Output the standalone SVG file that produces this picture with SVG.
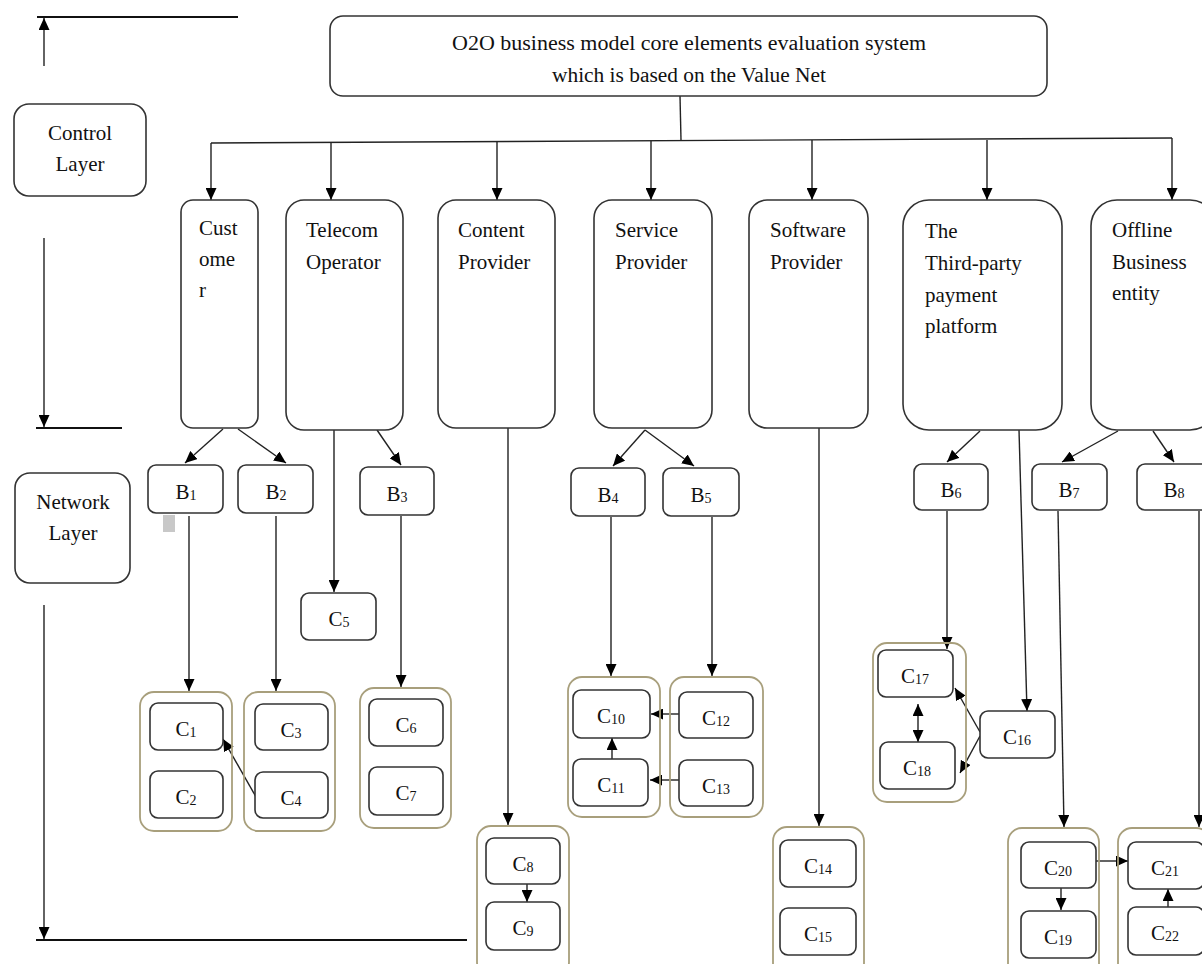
<svg xmlns="http://www.w3.org/2000/svg" width="1202" height="964" viewBox="0 0 1202 964">
<defs>
<marker id="ah" viewBox="0 0 12 11" refX="12" refY="5.5" markerWidth="12" markerHeight="11" orient="auto-start-reverse" markerUnits="userSpaceOnUse"><path d="M0,0 L12,5.5 L0,11 z" fill="#000"/></marker>
<style>
.box{fill:#fff;stroke:#333;stroke-width:1.6}
.grp{fill:none;stroke:#a89f7c;stroke-width:1.8}
.ln{fill:none;stroke:#222;stroke-width:1.4}
.ar{fill:none;stroke:#222;stroke-width:1.4;marker-end:url(#ah)}
.bar{fill:none;stroke:#111;stroke-width:2}
text{font-family:"Liberation Serif","Times New Roman",serif;font-size:21px;fill:#111}
.c{text-anchor:middle;font-size:21px}
.s{font-size:14px}
.t{font-size:20px}
</style>
</defs>

<g id="connectors">
<line class="bar" x1="37" y1="17" x2="238" y2="17"/>
<line class="ar" x1="44" y1="66" x2="44" y2="18"/>
<line class="ar" x1="44" y1="238" x2="44" y2="427"/>
<line class="bar" x1="36" y1="428" x2="122" y2="428"/>
<line class="ar" x1="44" y1="605" x2="44" y2="939"/>
<line class="bar" x1="36" y1="940" x2="467" y2="940"/>
<line class="ln" x1="680" y1="96" x2="681" y2="140"/>
<line class="ln" x1="211" y1="143" x2="1172" y2="138"/>
<line class="ar" x1="211" y1="143" x2="211" y2="200"/>
<line class="ar" x1="331" y1="142" x2="331" y2="200"/>
<line class="ar" x1="497" y1="141" x2="497" y2="200"/>
<line class="ar" x1="651" y1="141" x2="651" y2="200"/>
<line class="ar" x1="812" y1="140" x2="812" y2="200"/>
<line class="ar" x1="987" y1="140" x2="987" y2="200"/>
<line class="ar" x1="1172" y1="138" x2="1172" y2="200"/>
<line class="ar" x1="223" y1="429" x2="185" y2="463"/>
<line class="ar" x1="238" y1="429" x2="286" y2="463"/>
<line class="ar" x1="334" y1="430" x2="334" y2="592"/>
<line class="ar" x1="377" y1="430" x2="401" y2="465"/>
<line class="ar" x1="508" y1="428" x2="508" y2="825"/>
<line class="ar" x1="645" y1="430" x2="613" y2="466"/>
<line class="ar" x1="645" y1="430" x2="694" y2="466"/>
<line class="ar" x1="819" y1="428" x2="819" y2="826"/>
<line class="ar" x1="980" y1="431" x2="947" y2="462"/>
<line class="ar" x1="1019" y1="430" x2="1027" y2="711"/>
<line class="ar" x1="1118" y1="431" x2="1062" y2="462"/>
<line class="ar" x1="1153" y1="431" x2="1174" y2="462"/>
<line class="ar" x1="189" y1="516" x2="189" y2="691"/>
<line class="ar" x1="276" y1="516" x2="276" y2="691"/>
<line class="ar" x1="401" y1="516" x2="401" y2="687"/>
<line class="ar" x1="611" y1="517" x2="611" y2="676"/>
<line class="ar" x1="712" y1="517" x2="712" y2="676"/>
<line class="ar" x1="947" y1="511" x2="947" y2="649"/>
<line class="ar" x1="1058" y1="511" x2="1064" y2="827"/>
<line class="ar" x1="1199" y1="511" x2="1199" y2="827"/>
<line class="ar" x1="256" y1="797" x2="223" y2="739"/>
<line class="ar" x1="527" y1="884" x2="527" y2="902"/>
<line class="ar" x1="612" y1="759" x2="612" y2="738"/>
<line class="ar" x1="679" y1="714" x2="651" y2="714"/>
<line class="ar" x1="679" y1="780" x2="650" y2="780"/>
<line class="ar" x1="918" y1="704" x2="918" y2="742" style="marker-start:url(#ah)"/>
<line class="ar" x1="980" y1="732" x2="955" y2="688"/>
<line class="ar" x1="980" y1="736" x2="960" y2="773"/>
<line class="ar" x1="1061" y1="888" x2="1061" y2="910"/>
<line class="ar" x1="1096" y1="861" x2="1128" y2="861"/>
<line class="ar" x1="1168" y1="907" x2="1168" y2="889"/>
</g>

<g id="layer-labels">
<g id="control-layer"><rect class="box" x="14" y="104" width="132" height="92" rx="15"/><text class="c" x="80" y="140">Control</text><text class="c" x="80" y="171">Layer</text></g>
<g id="network-layer"><rect class="box" x="15" y="473" width="115" height="110" rx="15"/><text class="c" x="73" y="509">Network</text><text class="c" x="73" y="540">Layer</text></g>
</g>

<g id="root"><rect class="box" x="330" y="16" width="717" height="80" rx="13"/>
<text class="t" x="452" y="50" textLength="474" lengthAdjust="spacingAndGlyphs">O2O business model core elements evaluation system</text>
<text class="t" x="552" y="82" textLength="274" lengthAdjust="spacingAndGlyphs">which is based on the Value Net</text></g>

<g id="level1">
<g id="customer"><rect class="box" x="181" y="200" width="77" height="228" rx="12"/><text x="199" y="235">Cust</text><text x="199" y="266">ome</text><text x="199" y="297">r</text></g>
<g id="telecom"><rect class="box" x="286" y="200" width="117" height="230" rx="18"/><text x="306" y="237">Telecom</text><text x="306" y="269">Operator</text></g>
<g id="content"><rect class="box" x="438" y="200" width="117" height="228" rx="18"/><text x="458" y="237">Content</text><text x="458" y="269">Provider</text></g>
<g id="service"><rect class="box" x="594" y="200" width="118" height="228" rx="18"/><text x="615" y="237">Service</text><text x="615" y="269">Provider</text></g>
<g id="software"><rect class="box" x="749" y="200" width="119" height="228" rx="18"/><text x="770" y="237">Software</text><text x="770" y="269">Provider</text></g>
<g id="thirdparty"><rect class="box" x="903" y="200" width="159" height="230" rx="26"/><text x="925" y="238">The</text><text x="925" y="270">Third-party</text><text x="925" y="302">payment</text><text x="925" y="333">platform</text></g>
<g id="offline"><rect class="box" x="1091" y="200" width="125" height="230" rx="26"/><text x="1112" y="237">Offline</text><text x="1112" y="269">Business</text><text x="1112" y="300">entity</text></g>
</g>

<g id="bnodes">
<g id="B1"><rect class="box" x="148" y="465" width="75" height="48" rx="8"/><text class="c" x="186" y="499">B<tspan class="s" dy="1">1</tspan></text></g>
<rect x="163" y="515" width="12" height="17" fill="#c8c8c8"/>
<g id="B2"><rect class="box" x="238" y="465" width="75" height="48" rx="8"/><text class="c" x="276" y="499">B<tspan class="s" dy="1">2</tspan></text></g>
<g id="B3"><rect class="box" x="360" y="467" width="74" height="48" rx="8"/><text class="c" x="397" y="501">B<tspan class="s" dy="1">3</tspan></text></g>
<g id="B4"><rect class="box" x="571" y="468" width="74" height="48" rx="8"/><text class="c" x="608" y="502">B<tspan class="s" dy="1">4</tspan></text></g>
<g id="B5"><rect class="box" x="663" y="468" width="76" height="48" rx="8"/><text class="c" x="701" y="502">B<tspan class="s" dy="1">5</tspan></text></g>
<g id="B6"><rect class="box" x="914" y="464" width="74" height="46" rx="8"/><text class="c" x="951" y="497">B<tspan class="s" dy="1">6</tspan></text></g>
<g id="B7"><rect class="box" x="1032" y="464" width="75" height="46" rx="8"/><text class="c" x="1069" y="497">B<tspan class="s" dy="1">7</tspan></text></g>
<g id="B8"><rect class="box" x="1137" y="464" width="75" height="46" rx="8"/><text class="c" x="1174" y="497">B<tspan class="s" dy="1">8</tspan></text></g>
</g>

<g id="groups">
<rect class="grp" x="140" y="692" width="92" height="139" rx="14"/>
<rect class="grp" x="244" y="692" width="91" height="139" rx="14"/>
<rect class="grp" x="360" y="688" width="91" height="140" rx="14"/>
<rect class="grp" x="477" y="826" width="92" height="150" rx="14"/>
<rect class="grp" x="568" y="677" width="92" height="140" rx="14"/>
<rect class="grp" x="670" y="677" width="93" height="140" rx="14"/>
<rect class="grp" x="773" y="827" width="91" height="150" rx="14"/>
<rect class="grp" x="873" y="643" width="93" height="159" rx="14"/>
<rect class="grp" x="1008" y="828" width="91" height="150" rx="14"/>
<rect class="grp" x="1118" y="828" width="92" height="150" rx="14"/>
</g>

<g id="cnodes">
<g id="C1"><rect class="box" x="150" y="703" width="73" height="47" rx="8"/><text class="c" x="186" y="736">C<tspan class="s" dy="1">1</tspan></text></g>
<g id="C2"><rect class="box" x="150" y="771" width="73" height="47" rx="8"/><text class="c" x="186" y="804">C<tspan class="s" dy="1">2</tspan></text></g>
<g id="C3"><rect class="box" x="255" y="704" width="73" height="46" rx="8"/><text class="c" x="291" y="737">C<tspan class="s" dy="1">3</tspan></text></g>
<g id="C4"><rect class="box" x="255" y="772" width="73" height="46" rx="8"/><text class="c" x="291" y="805">C<tspan class="s" dy="1">4</tspan></text></g>
<g id="C5"><rect class="box" x="301" y="593" width="75" height="47" rx="8"/><text class="c" x="339" y="626">C<tspan class="s" dy="1">5</tspan></text></g>
<g id="C6"><rect class="box" x="369" y="699" width="74" height="47" rx="8"/><text class="c" x="406" y="732">C<tspan class="s" dy="1">6</tspan></text></g>
<g id="C7"><rect class="box" x="369" y="767" width="74" height="48" rx="8"/><text class="c" x="406" y="800">C<tspan class="s" dy="1">7</tspan></text></g>
<g id="C8"><rect class="box" x="486" y="838" width="74" height="46" rx="8"/><text class="c" x="523" y="871">C<tspan class="s" dy="1">8</tspan></text></g>
<g id="C9"><rect class="box" x="486" y="902" width="74" height="48" rx="8"/><text class="c" x="523" y="935">C<tspan class="s" dy="1">9</tspan></text></g>
<g id="C10"><rect class="box" x="573" y="690" width="77" height="48" rx="8"/><text class="c" x="611" y="723">C<tspan class="s" dy="1">10</tspan></text></g>
<g id="C11"><rect class="box" x="573" y="759" width="75" height="47" rx="8"/><text class="c" x="611" y="792">C<tspan class="s" dy="1">11</tspan></text></g>
<g id="C12"><rect class="box" x="679" y="692" width="74" height="46" rx="8"/><text class="c" x="716" y="725">C<tspan class="s" dy="1">12</tspan></text></g>
<g id="C13"><rect class="box" x="679" y="760" width="74" height="46" rx="8"/><text class="c" x="716" y="793">C<tspan class="s" dy="1">13</tspan></text></g>
<g id="C14"><rect class="box" x="780" y="840" width="76" height="47" rx="8"/><text class="c" x="818" y="873">C<tspan class="s" dy="1">14</tspan></text></g>
<g id="C15"><rect class="box" x="780" y="908" width="76" height="47" rx="8"/><text class="c" x="818" y="941">C<tspan class="s" dy="1">15</tspan></text></g>
<g id="C16"><rect class="box" x="980" y="711" width="75" height="47" rx="8"/><text class="c" x="1017" y="744">C<tspan class="s" dy="1">16</tspan></text></g>
<g id="C17"><rect class="box" x="878" y="650" width="75" height="47" rx="8"/><text class="c" x="915" y="683">C<tspan class="s" dy="1">17</tspan></text></g>
<g id="C18"><rect class="box" x="880" y="742" width="75" height="47" rx="8"/><text class="c" x="917" y="775">C<tspan class="s" dy="1">18</tspan></text></g>
<g id="C20"><rect class="box" x="1021" y="842" width="75" height="46" rx="8"/><text class="c" x="1058" y="875">C<tspan class="s" dy="1">20</tspan></text></g>
<g id="C19"><rect class="box" x="1021" y="911" width="75" height="47" rx="8"/><text class="c" x="1058" y="944">C<tspan class="s" dy="1">19</tspan></text></g>
<g id="C21"><rect class="box" x="1128" y="842" width="76" height="47" rx="8"/><text class="c" x="1165" y="875">C<tspan class="s" dy="1">21</tspan></text></g>
<g id="C22"><rect class="box" x="1128" y="907" width="76" height="48" rx="8"/><text class="c" x="1165" y="940">C<tspan class="s" dy="1">22</tspan></text></g>
</g>
</svg>
